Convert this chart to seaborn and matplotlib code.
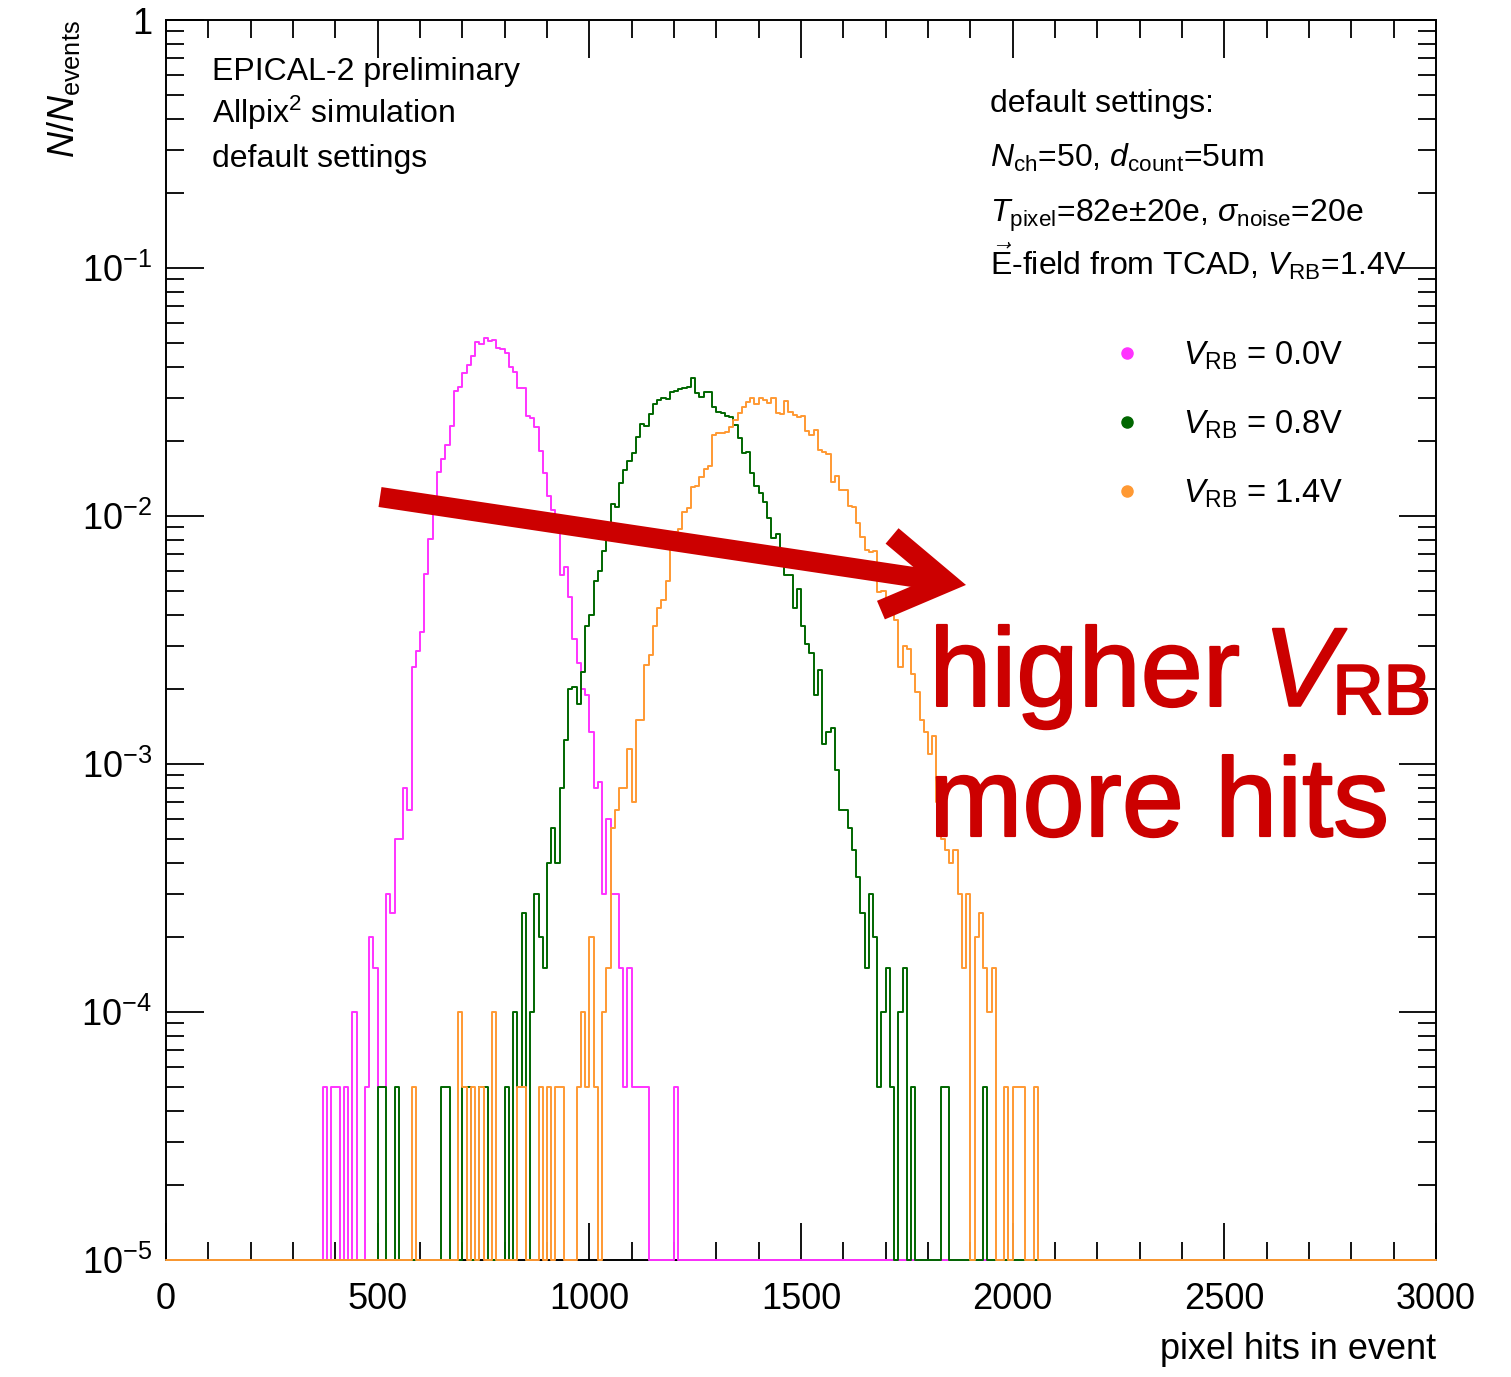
import numpy as np
import pandas as pd
import matplotlib
matplotlib.use("Agg")
import matplotlib.pyplot as plt
import seaborn as sns
from matplotlib.lines import Line2D
from matplotlib.ticker import MultipleLocator, LogLocator, FixedLocator, FixedFormatter, NullFormatter
import matplotlib.patheffects as pe

# ---------------- data (counts per 10-hit bin, 20000 events) ----------------
N_EVENTS = 20000
BIN_WIDTH = 10
X_MIN, X_MAX = 0, 3000
Y_MIN, Y_MAX = 1e-5, 1.0

series_labels = ["0.0V", "0.8V", "1.4V"]
series_colors = ["#ff33ff", "#006600", "#ff9933"]

vrb00_start = 370
vrb00_counts = [1, 0, 1, 1, 0, 1, 0, 2, 0, 0,
                1, 4, 3, 1, 1, 6, 5, 10, 10, 16,
                13, 49, 57, 68, 117, 161, 225, 302, 339, 386,
                461, 638, 664, 757, 813, 886, 1003, 985, 1041, 1018,
                1025, 954, 945, 906, 800, 760, 654, 654, 506, 498,
                456, 367, 297, 241, 211, 176, 116, 124, 94, 64,
                51, 40, 38, 27, 16, 17, 6, 12, 6, 6,
                3, 1, 3, 1, 1, 1, 1, 0, 0, 0, 0, 0, 0, 1]

vrb08_start = 500
vrb08_counts = [1, 1, 0, 0, 1, 0, 0, 0, 0, 0,
                0, 0, 0, 0, 0, 1, 1, 0, 0, 0,
                1, 1, 0, 0, 1, 1, 0, 0, 0, 0,
                1, 0, 2, 1, 5, 0, 2, 6, 4, 3,
                8, 11, 8, 16, 25, 40, 41, 35, 47, 72,
                80, 109, 120, 144, 170, 224, 218, 271, 307, 333,
                360, 418, 468, 463, 516, 566, 587, 596, 593, 631,
                640, 648, 658, 665, 718, 625, 602, 634, 634, 552,
                527, 522, 506, 503, 466, 411, 358, 363, 299, 264,
                248, 228, 196, 163, 170, 141, 116, 116, 85, 102,
                72, 61, 56, 38, 48, 24, 27, 28, 19, 13,
                13, 11, 9, 7, 5, 3, 6, 4, 1, 2,
                3, 1, 0, 2, 3, 0, 1, 0, 0, 0,
                0, 0, 0, 1, 1, 0, 0, 0, 0, 0,
                0, 0, 0, 1]

vrb14_start = 580
vrb14_counts = [1, 0, 0, 0, 0, 0, 0, 0, 0, 0,
                0, 2, 1, 0, 1, 0, 1, 0, 0, 2,
                0, 0, 0, 0, 0, 1, 1, 0, 0, 0,
                1, 0, 1, 0, 1, 1, 0, 0, 0, 1,
                2, 1, 4, 1, 0, 2, 3, 11, 13, 16,
                16, 23, 14, 30, 30, 50, 55, 72, 85, 92,
                109, 150, 173, 177, 208, 216, 262, 264, 288, 308,
                318, 424, 431, 431, 438, 458, 488, 519, 552, 574,
                600, 564, 600, 587, 573, 600, 519, 514, 582, 527,
                511, 503, 506, 442, 424, 445, 369, 363, 355, 275,
                291, 255, 255, 220, 218, 187, 165, 146, 143, 144,
                99, 100, 90, 83, 76, 49, 60, 58, 46, 39,
                30, 27, 22, 26, 14, 10, 9, 8, 9, 6,
                3, 6, 0, 4, 5, 3, 2, 3, 0, 0,
                1, 0, 1, 1, 1, 0, 0, 1]

series_starts = [vrb00_start, vrb08_start, vrb14_start]
series_counts = [vrb00_counts, vrb08_counts, vrb14_counts]

x_major_ticks = [0, 500, 1000, 1500, 2000, 2500, 3000]
y_major_ticks = [1e-5, 1e-4, 1e-3, 1e-2, 1e-1, 1.0]
y_tick_labels = [r"$\mathregular{10^{-5}}$", r"$\mathregular{10^{-4}}$", r"$\mathregular{10^{-3}}$",
                 r"$\mathregular{10^{-2}}$", r"$\mathregular{10^{-1}}$", "1"]

# ---------------- style ----------------
sns.set_theme(style="white")
plt.rcParams["font.family"] = ["Liberation Sans", "DejaVu Sans"]
plt.rcParams["mathtext.fontset"] = "custom"
plt.rcParams["mathtext.rm"] = "Liberation Sans"
plt.rcParams["mathtext.it"] = "Liberation Sans:italic"
plt.rcParams["mathtext.bf"] = "Liberation Sans:bold"
plt.rcParams["mathtext.sf"] = "Liberation Sans"
plt.rcParams["text.color"] = "black"
plt.rcParams["axes.labelcolor"] = "black"
plt.rcParams["xtick.color"] = "black"
plt.rcParams["ytick.color"] = "black"

W, H = 1511, 1377
fig = plt.figure(figsize=(W / 100, H / 100), dpi=100)
ax = fig.add_axes([166 / W, (H - 1260) / H, 1270 / W, 1240 / H])

edges = np.arange(X_MIN, X_MAX + BIN_WIDTH, BIN_WIDTH)
centers = edges[:-1] + BIN_WIDTH / 2
nbins = len(centers)

for start, counts, color in zip(series_starts, series_counts, series_colors):
    full = np.zeros(nbins)
    i0 = start // BIN_WIDTH
    full[i0:i0 + len(counts)] = counts
    frac = np.clip(full / N_EVENTS, Y_MIN, None)
    df = pd.DataFrame({"hits": centers, "frac": frac})
    sns.histplot(data=df, x="hits", weights="frac", binwidth=BIN_WIDTH, binrange=(X_MIN, X_MAX),
                 element="step", fill=False, color=color, linewidth=1.4, ax=ax, zorder=3,
                 clip_on=False)

ax.set_yscale("log")
ax.set_xlim(X_MIN, X_MAX)
ax.set_ylim(Y_MIN, Y_MAX)

# ticks (ROOT style)
ax.xaxis.set_major_locator(FixedLocator(x_major_ticks))
ax.xaxis.set_minor_locator(MultipleLocator(100))
ax.yaxis.set_major_locator(FixedLocator(y_major_ticks))
ax.yaxis.set_major_formatter(FixedFormatter(y_tick_labels))
ax.yaxis.set_minor_locator(LogLocator(base=10, subs=np.arange(2, 10), numticks=100))
ax.yaxis.set_minor_formatter(NullFormatter())
ax.tick_params(axis="both", which="major", direction="in", length=27, width=1.3,
               top=True, right=True, bottom=True, left=True, labelsize=26, colors="black")
ax.tick_params(axis="x", which="major", pad=16)
ax.tick_params(axis="y", which="major", pad=10)
ax.tick_params(axis="both", which="minor", direction="in", length=13, width=1.3,
               top=True, right=True, bottom=True, left=True, colors="black")
for s in ax.spines.values():
    s.set_linewidth(1.4)
    s.set_color("black")
ax.grid(False)

ax.set_xlabel("pixel hits in event", fontsize=26, loc="right")
ax.xaxis.set_label_coords(1.0, -0.058)
ax.set_ylabel(r"$N/N_{\mathrm{events}}$", fontsize=26, loc="top")
ax.yaxis.set_label_coords(-0.066, 1.0)

# text blocks
tfs = 23
ax.text(0.0362, 0.9516, "EPICAL-2 preliminary", transform=ax.transAxes, fontsize=tfs, va="baseline")
ax.text(0.0362, 0.9169, r"Allpix$^{2}$ simulation", transform=ax.transAxes, fontsize=tfs, va="baseline")
ax.text(0.0362, 0.8815, "default settings", transform=ax.transAxes, fontsize=tfs, va="baseline")

ax.text(0.6488, 0.9258, "default settings:", transform=ax.transAxes, fontsize=tfs, va="baseline")
ax.text(0.6488, 0.8817, r"$N_{\mathrm{ch}}$=50, $d_{\mathrm{count}}$=5um", transform=ax.transAxes,
        fontsize=tfs, va="baseline")
ax.text(0.6488, 0.8373, r"$T_{\mathrm{pixel}}$=82e±20e, $\sigma_{\mathrm{noise}}$=20e", transform=ax.transAxes,
        fontsize=tfs, va="baseline")
ax.text(0.6488, 0.7944, r"$\vec{\mathrm{E}}$-field from TCAD, $V_{\mathrm{RB}}$=1.4V", transform=ax.transAxes,
        fontsize=tfs, va="baseline")

# legend
handles = [Line2D([], [], marker="o", ls="", color=c, markersize=8) for c in series_colors]
labels = [r"$V_{\mathrm{RB}}$ = " + l for l in series_labels]
ax.legend(handles, labels, loc="upper left", bbox_to_anchor=(0.744, 0.742), frameon=False,
          fontsize=23.5, handlelength=1.0, handletextpad=1.2, labelspacing=1.12, borderpad=0,
          borderaxespad=0)

# red annotation arrow and text
red = "#cc0000"
ax.annotate("", xy=(0.6299, 0.5444), xytext=(0.1685, 0.6153), xycoords="axes fraction",
            textcoords="axes fraction",
            arrowprops=dict(arrowstyle="->,head_length=0.44,head_width=0.27", lw=14.5, color=red,
                            mutation_scale=100, shrinkA=0, shrinkB=0, capstyle="butt",
                            joinstyle="miter"),
            zorder=5)
stroke = [pe.withStroke(linewidth=1.5, foreground=red)]
big = 80.5
ax.text(0.6010, 0.4468, "higher", transform=ax.transAxes, fontsize=big,
        color=red, va="baseline", zorder=6, path_effects=stroke)
ax.text(0.8640, 0.4468, r"$V$", transform=ax.transAxes, fontsize=big,
        color=red, va="baseline", zorder=6, path_effects=stroke)
ax.text(0.9185, 0.4403, "RB", transform=ax.transAxes, fontsize=51,
        color=red, va="baseline", zorder=6, path_effects=stroke)
ax.text(0.6010, 0.3419, "more hits", transform=ax.transAxes, fontsize=big,
        color=red, va="baseline", zorder=6, path_effects=stroke)

fig.savefig("out.png", dpi=100)
